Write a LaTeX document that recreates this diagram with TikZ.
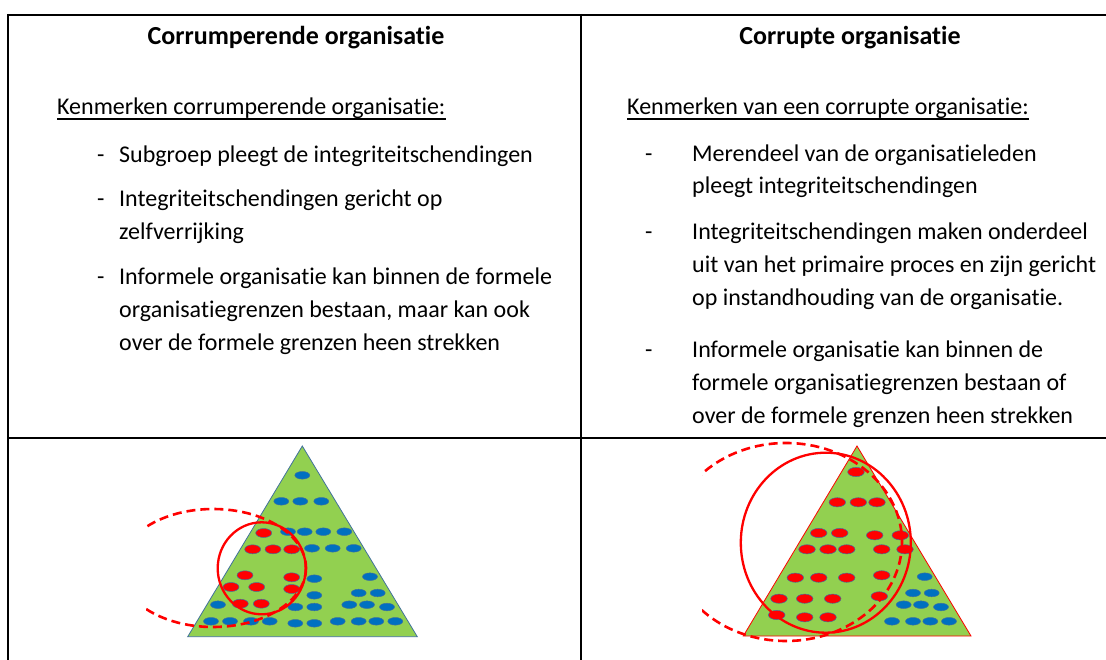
\documentclass[tikz,border=0pt]{standalone}
\usepackage{fontspec}
\setmainfont{Carlito}[Ligatures=NoCommon]
\definecolor{grn}{HTML}{92D050}
\definecolor{dotblue}{HTML}{0070C0}
\definecolor{dotred}{HTML}{FF0000}
\definecolor{edge}{HTML}{41719C}
\tikzset{
  body/.style={font=\fontsize{24}{29}\selectfont, anchor=base west, inner sep=0pt},
  ttl/.style={font=\fontsize{26}{31}\selectfont\bfseries, anchor=base, inner sep=0pt},
  grid/.style={line width=2pt, black},
  uline/.style={line width=1.3pt, black},
  bdot/.style={fill=dotblue, draw=edge, line width=0.5pt},
  rdot/.style={fill=dotred, draw=edge, line width=0.5pt},
  solidring/.style={draw=dotred, line width=2.3pt},
  dashring/.style={draw=dotred, line width=2.6pt, dash pattern=on 9pt off 5pt},
}
\begin{document}
\begin{tikzpicture}[x=1pt, y=-1pt]
\useasboundingbox (0,0) rectangle (1106,660);
% table
\draw[grid] (7.5,15) -- (1106,15);
\draw[grid] (7.5,437.5) -- (1106,437.5);
\draw[grid] (7.5,14) -- (7.5,660);
\draw[grid] (581,14) -- (581,660);

% left column
\node[ttl] (t1) at (296,45) {Corrumperende organisatie};
\node[body] (k1) at (57,115) {Kenmerken corrumperende organisatie:};
\draw[uline] ([yshift=-4pt]k1.base west) -- ([yshift=-4pt]k1.base east);
\node[body] (d11) at (97,163) {-};
\node[body] (l11) at (119,163) {Subgroep pleegt de integriteitschendingen};
\node[body] (d12) at (97,207) {-};
\node[body] (l12) at (119,207) {Integriteitschendingen gericht op};
\node[body] (l13) at (119,240) {zelfverrijking};
\node[body] (d13) at (97,285) {-};
\node[body] (l14) at (119,285) {Informele organisatie kan binnen de formele};
\node[body] (l15) at (119,318) {organisatiegrenzen bestaan, maar kan ook};
\node[body] (l16) at (119,351) {over de formele grenzen heen strekken};

% right column
\node[ttl] (t2) at (850,45) {Corrupte organisatie};
\node[body] (k2) at (627,115) {Kenmerken van een corrupte organisatie:};
\draw[uline] ([yshift=-4pt]k2.base west) -- ([yshift=-4pt]k2.base east);
\node[body] (d21) at (645,162) {-};
\node[body] (r11) at (692,162) {Merendeel van de organisatieleden};
\node[body] (r12) at (692,194) {pleegt integriteitschendingen};
\node[body] (d22) at (645,240) {-};
\node[body] (r13) at (692,240) {Integriteitschendingen maken onderdeel};
\node[body] (r14) at (692,273) {uit van het primaire proces en zijn gericht};
\node[body] (r15) at (692,306) {op instandhouding van de organisatie.};
\node[body] (d23) at (645,357) {-};
\node[body] (r16) at (692,357) {Informele organisatie kan binnen de};
\node[body] (r17) at (692,390) {formele organisatiegrenzen bestaan of};
\node[body] (r18) at (692,423) {over de formele grenzen heen strekken};

% left triangle
\draw[fill=grn, draw=edge, line width=0.8pt] (302.3,446) -- (187.7,636.7) -- (417.3,636.7) -- cycle;
\foreach \x/\y in {302.3/475.3, 281.3/501.3, 300.3/501.3, 321.3/501.3,
  288/531.7, 304.7/531.7, 323.3/531.7, 344.3/531.7,
  312/548.3, 332.7/548.3, 353.7/548.3,
  314.3/578.7, 370/576.7,
  314.3/595.3, 358.7/593, 377.7/593,
  218/604.7, 295.3/607, 314.3/607, 349.3/604.7, 367/604.7, 387/607,
  211/621.3, 230/621.3, 251/621.3, 269.7/621.3, 295.3/623.3, 314.3/623.3,
  337.7/621.3, 358.7/621.3, 376.3/621.3, 395.3/621.3}
  \draw[bdot] (\x,\y) ellipse [x radius=7.5, y radius=3.8];
\foreach \x/\y in {263.7/533, 252.7/549.3, 273/549.3, 291.7/549.3,
  245/575.3, 291.7/577.3, 231/587, 256.7/587, 291.7/589,
  240.3/603.7, 261.3/603.7}
  \draw[rdot] (\x,\y) ellipse [x radius=8, y radius=4.5];
\draw[solidring] (261.7,568.3) ellipse [x radius=44, y radius=46];
\begin{scope}
  \clip (146,440) rectangle (580,660);
  \draw[dashring] (213,568) ellipse [x radius=93, y radius=59];
\end{scope}

% right triangle
\draw[fill=grn, draw=dotred, line width=0.8pt] (857,446) -- (743.3,636) -- (971,636) -- cycle;
\foreach \x/\y in {924.7/576.7, 913/593, 931.7/593, 903.7/604.7, 921/604.7, 941/607,
  892/621.3, 913/621.3, 930.3/621.3, 949/621.3}
  \draw[bdot] (\x,\y) ellipse [x radius=7.5, y radius=3.8];
\foreach \x/\y in {856/472, 837.3/502.3, 858.3/502.3, 877/502.3,
  818.7/533, 839.7/533, 874.7/535.3, 900.3/535.3,
  807/549.3, 828/549.3, 846.7/549.3, 881.7/549.3, 905/549.3,
  795.3/577.7, 818.7/577.7, 846.7/577.7, 881.7/575.3,
  779/598.7, 804.7/598.7, 832.7/598.7, 879.3/596.3,
  776.7/615, 804.7/617.3, 828/617.3}
  \draw[rdot] (\x,\y) ellipse [x radius=8.3, y radius=4.6];
\draw[solidring] (825.8,542.7) ellipse [x radius=85, y radius=90];
\begin{scope}
  \clip (702,440) rectangle (1106,660);
  \draw[dashring] (786,542) ellipse [x radius=116, y radius=99];
\end{scope}
\end{tikzpicture}
\end{document}
